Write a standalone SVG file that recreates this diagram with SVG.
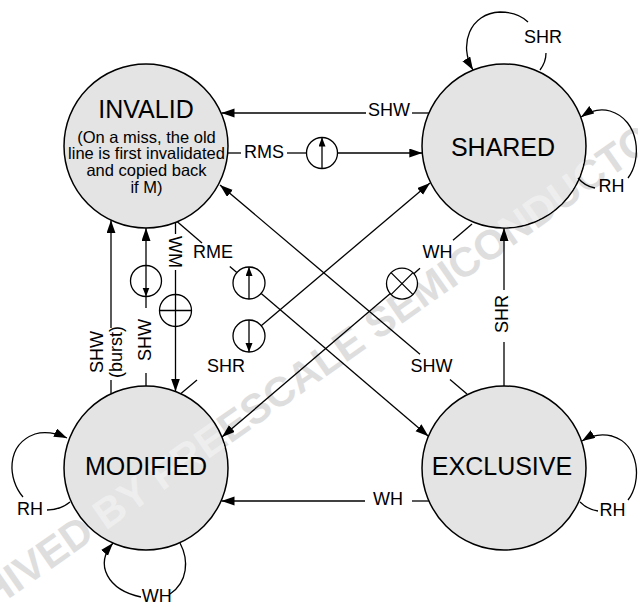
<svg xmlns="http://www.w3.org/2000/svg" width="638" height="605" viewBox="0 0 638 605">
<style>
text{font-family:"Liberation Sans",Arial,sans-serif}
.node{fill:#e4e4e4;stroke:#000;stroke-width:1.5}
.title{font-size:25px;text-anchor:middle;fill:#000}
.sub{font-size:16.5px;text-anchor:middle;fill:#000}
.lbl{font-size:18px;text-anchor:middle;fill:#000}
.ln{fill:none;stroke:#000;stroke-width:1.3}
.sym{fill:#fff;stroke:#000;stroke-width:1.3}
#wmt{font-size:41.5px;font-weight:bold;text-anchor:end}
</style>
<defs>
<marker id="a" markerUnits="userSpaceOnUse" markerWidth="14" markerHeight="10" refX="13" refY="4.5" orient="auto"><path d="M0,0 L13,4.5 L0,9 z" fill="#000"/></marker>
<marker id="s" markerUnits="userSpaceOnUse" markerWidth="10" markerHeight="8" refX="9" refY="3.5" orient="auto"><path d="M0,0 L9,3.5 L0,7 z" fill="#000"/></marker>
<text id="wmt" transform="translate(680.7,128.3) rotate(-35)">ARCHIVED BY FREESCALE SEMICONDUCTOR</text>
<clipPath id="cS"><circle cx="504" cy="146" r="81.2"/></clipPath>
<clipPath id="cM"><circle cx="146" cy="468" r="81.2"/></clipPath>
</defs>
<rect width="638" height="605" fill="#fff"/>
<use href="#wmt" fill="#dedede"/>

<g id="invalid">
<circle class="node" cx="146" cy="146" r="82"/>
<text class="title" x="146" y="118">INVALID</text>
<text class="sub"><tspan x="146.5" y="142.5">(On a miss, the old</tspan><tspan x="146.5" y="159.4">line is first invalidated</tspan><tspan x="146.5" y="176.3">and copied back</tspan><tspan x="146.5" y="193.2">if M)</tspan></text>
</g>
<g id="shared">
<circle class="node" cx="504" cy="146" r="82"/>
<use href="#wmt" fill="#eeeeee" clip-path="url(#cS)"/>
<text class="title" x="503" y="155.5">SHARED</text>
</g>
<g id="modified">
<circle class="node" cx="146" cy="468" r="82"/>
<use href="#wmt" fill="#eeeeee" clip-path="url(#cM)"/>
<text class="title" x="146" y="475">MODIFIED</text>
</g>
<g id="exclusive">
<circle class="node" cx="504" cy="468" r="82"/>
<text class="title" x="502" y="475">EXCLUSIVE</text>
</g>

<g id="connectors">
<!-- SHARED -> INVALID (SHW) -->
<path class="ln" d="M428.9,113 H412"/>
<path class="ln" d="M366,113 H221.5" marker-end="url(#a)"/>
<text class="lbl" x="389" y="116">SHW</text>
<!-- INVALID -> SHARED (RMS) -->
<path class="ln" d="M227.7,153 H241"/>
<text class="lbl" x="264" y="158.3">RMS</text>
<path class="ln" d="M287,153 H306.5"/>
<circle class="sym" cx="322" cy="153" r="15.5"/>
<path class="ln" d="M322,168.5 V137.5" marker-end="url(#s)"/>
<path class="ln" d="M337.5,153 H422.3" marker-end="url(#a)"/>
<!-- EXCLUSIVE -> INVALID (SHW) -->
<path class="ln" d="M467,394 L450,379.6"/>
<path class="ln" d="M420,354.2 L220,185" marker-end="url(#a)"/>
<text class="lbl" x="431.5" y="372">SHW</text>
<!-- INVALID -> EXCLUSIVE (RME) -->
<path class="ln" d="M177.3,221.8 L202,242.9"/>
<text class="lbl" x="213" y="258.3">RME</text>
<path class="ln" d="M229.8,266.6 L236.8,272.6"/>
<circle class="sym" cx="249" cy="283" r="16"/>
<path class="ln" d="M249,299 V267" marker-end="url(#s)"/>
<path class="ln" d="M261.2,293.4 L428.4,436.2" marker-end="url(#a)"/>
<!-- MODIFIED -> SHARED (SHR) -->
<path class="ln" d="M180.7,393.7 L197,380"/>
<text class="lbl" x="226" y="371.7">SHR</text>
<circle class="sym" cx="249" cy="336" r="16"/>
<path class="ln" d="M249,320 V352" marker-end="url(#s)"/>
<path class="ln" d="M261.2,325.7 L430,183" marker-end="url(#a)"/>
<!-- SHARED -> MODIFIED (WH) -->
<path class="ln" d="M472,224 L453,240.2"/>
<text class="lbl" x="437.5" y="258.3">WH</text>
<path class="ln" d="M420,268.3 L413.5,273.9"/>
<circle class="sym" cx="402" cy="283.6" r="15.5"/>
<path class="ln" d="M391,272.6 L413,294.6 M413,272.6 L391,294.6"/>
<path class="ln" d="M390.6,293.3 L222,437" marker-end="url(#a)"/>
<!-- MODIFIED -> INVALID (SHW burst) -->
<path class="ln" d="M111,393.8 V380"/>
<path class="ln" d="M111,328 V220.2" marker-end="url(#a)"/>
<text class="lbl" transform="translate(107,352) rotate(-90)"><tspan x="0" y="-4">SHW</tspan><tspan x="0" y="14.5">(burst)</tspan></text>
<!-- MODIFIED -> INVALID (SHW, copy-back) -->
<path class="ln" d="M146,386 V373"/>
<text class="lbl" transform="translate(146,340) rotate(-90)" y="4.5">SHW</text>
<path class="ln" d="M146,308 V296.5"/>
<circle class="sym" cx="146" cy="281" r="15.5"/>
<path class="ln" d="M146,265.5 V296.5" marker-end="url(#s)"/>
<path class="ln" d="M146,265.5 V228" marker-end="url(#a)"/>
<!-- INVALID -> MODIFIED (WM) -->
<path class="ln" d="M175.5,222.5 V234"/>
<text class="lbl" transform="translate(175.5,252) rotate(90)" y="7">WM</text>
<circle class="sym" cx="175.5" cy="310.5" r="16"/>
<path class="ln" d="M159.5,310.5 H191.5"/>
<path class="ln" d="M175.5,270 V391.5" marker-end="url(#a)"/>
<!-- EXCLUSIVE -> SHARED (SHR) -->
<path class="ln" d="M504,386 V342"/>
<text class="lbl" transform="translate(504,314) rotate(-90)" y="4">SHR</text>
<path class="ln" d="M504,290 V228" marker-end="url(#a)"/>
<!-- EXCLUSIVE -> MODIFIED (WH) -->
<path class="ln" d="M428.9,501 H412"/>
<text class="lbl" x="388" y="505">WH</text>
<path class="ln" d="M365,501 H221.5" marker-end="url(#a)"/>
<!-- SHARED self loops -->
<path class="ln" d="M540,70 Q546,62 546,53"/>
<path class="ln" d="M528,22 C520,14 510,12 500,12 C470,13 458,45 473,70" marker-end="url(#a)"/>
<text class="lbl" x="543" y="43">SHR</text>
<path class="ln" d="M578,178 C583,184 589,187 595,188"/>
<path class="ln" d="M628,178 C642,160 640,120 610,111 C600,108 590,111 581,117" marker-end="url(#a)"/>
<text class="lbl" x="611.5" y="192">RH</text>
<!-- EXCLUSIVE self loop -->
<path class="ln" d="M580,502 C585,507 591,510 598,511"/>
<path class="ln" d="M628,500 C642,482 640,444 612,436 C600,433 590,436 582,441" marker-end="url(#a)"/>
<text class="lbl" x="612.5" y="516">RH</text>
<!-- MODIFIED self loops -->
<path class="ln" d="M70,502 C64,507 55,510 47,510"/>
<path class="ln" d="M23,497 C8,480 5,445 35,434 C45,431 56,433 67,438" marker-end="url(#a)"/>
<text class="lbl" x="30" y="515">RH</text>
<path class="ln" d="M180,543 C189,560 188,582 170,594"/>
<path class="ln" d="M141,597 C108,590 94,565 113,543" marker-end="url(#a)"/>
<text class="lbl" x="156.7" y="602">WH</text>
</g>
</svg>
